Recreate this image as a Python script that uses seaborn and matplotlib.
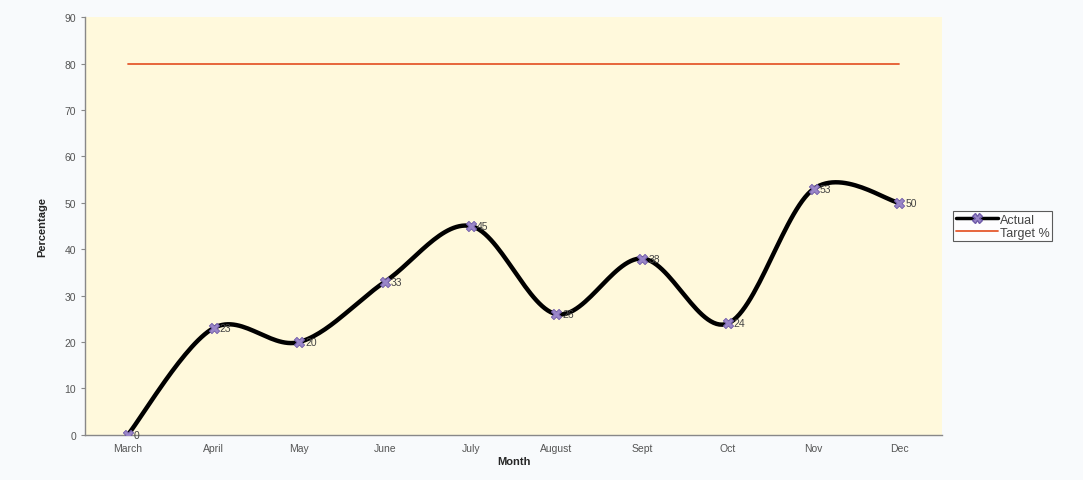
import numpy as np
import pandas as pd
import seaborn as sns
import matplotlib.pyplot as plt
from matplotlib.ticker import MultipleLocator, FixedLocator
from matplotlib.lines import Line2D

months = ["March", "April", "May", "June", "July", "August", "Sept", "Oct", "Nov", "Dec"]
actual = [0, 23, 20, 33, 45, 26, 38, 24, 53, 50]
target = [80, 80, 80, 80, 80, 80, 80, 80, 80, 80]


def smooth(x, y, steps=30):
    # catmull-rom style smoothing, like the spreadsheet "smoothed line" option
    x = np.asarray(x, float)
    y = np.asarray(y, float)
    px = np.concatenate([[x[0]], x, [x[-1]]])
    py = np.concatenate([[y[0]], y, [y[-1]]])
    xs, ys = [], []
    for i in range(1, len(px) - 2):
        t = np.linspace(0, 1, steps, endpoint=False)
        p0, p1, p2, p3 = [np.array([px[j], py[j]]) for j in (i - 1, i, i + 1, i + 2)]
        c1 = p1 + (p2 - p0) / 6
        c2 = p2 - (p3 - p1) / 6
        tt = t[:, None]
        pts = ((1 - tt) ** 3) * p1 + 3 * ((1 - tt) ** 2) * tt * c1 + 3 * (1 - tt) * tt ** 2 * c2 + tt ** 3 * p2
        xs.extend(pts[:, 0])
        ys.extend(pts[:, 1])
    xs.append(x[-1])
    ys.append(y[-1])
    return np.array(xs), np.array(ys)


sns.set_style("white")
plt.rcParams['font.family'] = ['Liberation Sans', 'DejaVu Sans']

fig = plt.figure(figsize=(10.83, 4.81), dpi=100, facecolor="#F8FAFC")
ax = fig.add_axes([0.0785, 0.094, 0.7915, 0.868])
ax.set_facecolor("#FFF9DC")

pos = np.arange(len(months))
sx, sy = smooth(pos, actual)
curve = pd.DataFrame({"x": sx, "y": sy})
sns.lineplot(data=curve, x="x", y="y", ax=ax, color="black", linewidth=3.2,
             sort=False, estimator=None, zorder=3)
pts = pd.DataFrame({"x": pos, "y": actual})
sns.scatterplot(data=pts, x="x", y="y", ax=ax, marker="X", s=55, color="#9A86C8",
                edgecolor="#6E5AA8", linewidth=0.6, zorder=4)
sns.lineplot(x=pos, y=target, ax=ax, color="#E55A2E", linewidth=1.3, zorder=2)

for xi, yi in zip(pos, actual):
    ax.text(xi + 0.07, yi, str(yi), fontsize=7.5, color="#444444", va="center", ha="left", zorder=5)

ax.set_xlim(-0.5, len(months) - 0.5)
ax.set_ylim(0, 90)
ax.yaxis.set_major_locator(MultipleLocator(10))
ax.set_xticks(pos)
ax.set_xticklabels(months)
ax.xaxis.set_minor_locator(FixedLocator(np.arange(-0.5, len(months), 1.0)))
ax.tick_params(axis="x", which="major", length=0, labelsize=7.5, labelcolor="#555555", pad=6)
ax.tick_params(axis="x", which="minor", length=3, color="#888888", direction="out")
ax.tick_params(axis="y", length=3, color="#888888", direction="out", labelsize=7.5,
               labelcolor="#555555", left=True)

for s in ("top", "right"):
    ax.spines[s].set_visible(False)
for s in ("left", "bottom"):
    ax.spines[s].set_color("#888888")
    ax.spines[s].set_linewidth(1.0)

ax.set_xlabel("Month", fontsize=8, fontweight="bold", labelpad=2)
ax.set_ylabel("Percentage", fontsize=8, fontweight="bold", labelpad=12)

handles = [
    Line2D([], [], color="black", linewidth=2.5, marker="X", markersize=7,
           markerfacecolor="#9A86C8", markeredgecolor="#6E5AA8"),
    Line2D([], [], color="#E55A2E", linewidth=1.3),
]
leg = fig.legend(handles, ["Actual", "Target %"], loc="upper left",
                 bbox_to_anchor=(0.880, 0.559), frameon=True, fancybox=False,
                 fontsize=9, handlelength=3.4, handletextpad=0.15,
                 borderpad=0.2, labelspacing=0.1, borderaxespad=0)
leg.get_frame().set_edgecolor("#333333")
leg.get_frame().set_linewidth(0.8)
leg.get_frame().set_facecolor("white")
for t in leg.get_texts():
    t.set_color("#444444")

fig.savefig("out.png", dpi=100, facecolor=fig.get_facecolor())
